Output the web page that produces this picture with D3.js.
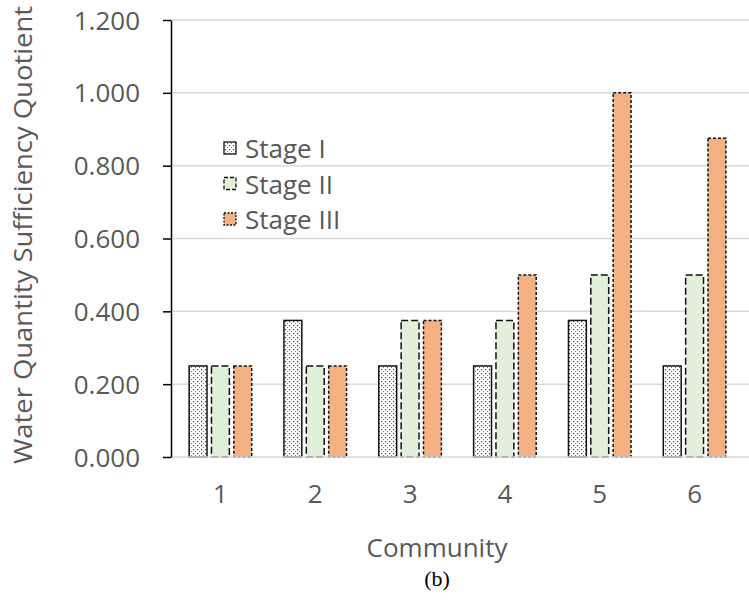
<!DOCTYPE html>
<html><head><meta charset="utf-8">
<script src="https://cdn.jsdelivr.net/npm/d3@7"></script>
<style>body{margin:0;background:#fff}svg{display:block}</style>
</head><body>
<svg id="c" width="749" height="610"></svg>
<script>
const categories = ["1","2","3","4","5","6"];
const seriesNames = ["Stage I","Stage II","Stage III"];
const stage1 = [0.25,0.375,0.25,0.25,0.375,0.25];
const stage2 = [0.25,0.25,0.375,0.375,0.5,0.5];
const stage3 = [0.25,0.25,0.375,0.5,1.0,0.875];
const yTicks = [0,0.2,0.4,0.6,0.8,1.0,1.2];

const series = [stage1, stage2, stage3];
const svg = d3.select("#c");
const font = "Open Sans, sans-serif";
const defs = svg.append("defs");
const pat = defs.append("pattern").attr("id","dots").attr("patternUnits","userSpaceOnUse")
  .attr("width",4).attr("height",4);
pat.append("rect").attr("width",4).attr("height",4).attr("fill","#fff");
pat.append("rect").attr("x",1).attr("y",1).attr("width",1.2).attr("height",1.2).attr("fill","#444");
pat.append("rect").attr("x",3).attr("y",3).attr("width",1.2).attr("height",1.2).attr("fill","#777");

const styles = [
  {fill:"url(#dots)", dash:null},
  {fill:"#e2efda", dash:"7,3"},
  {fill:"#f4b183", dash:"3,2"}
];

const x0 = d3.scaleBand().domain(categories).range([173,742]).paddingInner(0.34).paddingOuter(0.17);
const x1 = d3.scaleBand().domain(seriesNames).range([0,x0.bandwidth()]).paddingInner(0.2);
const y = d3.scaleLinear().domain([0,1.2]).range([457,20]);

// gridlines
svg.append("g").selectAll("line").data(yTicks.slice(1)).join("line")
  .attr("x1",171).attr("x2",749).attr("y1",d=>y(d)).attr("y2",d=>y(d))
  .attr("stroke","#d9d9d9").attr("stroke-width",1.5);

// bars
seriesNames.forEach((s,i)=>{
  svg.append("g").selectAll("rect").data(series[i]).join("rect")
    .attr("x",(d,j)=>x0(categories[j])+x1(s))
    .attr("y",d=>y(d))
    .attr("width",x1.bandwidth())
    .attr("height",d=>y(0)-y(d))
    .attr("fill",styles[i].fill)
    .attr("stroke","#111").attr("stroke-width",1.5)
    .attr("stroke-dasharray",styles[i].dash);
});

// x axis baseline
svg.append("line").attr("x1",171).attr("x2",749).attr("y1",y(0)).attr("y2",y(0))
  .attr("stroke","#d9d9d9").attr("stroke-width",1.5);

// y axis
const ya = svg.append("g").attr("transform","translate(171,0)")
  .call(d3.axisLeft(y).tickValues(yTicks).tickFormat(d3.format(".3f")).tickSize(8).tickSizeOuter(0));
ya.select(".domain").attr("stroke","#000").attr("stroke-width",1.5);
ya.selectAll(".tick line").attr("stroke","#000").attr("stroke-width",1.5);
ya.selectAll(".tick text").attr("x",-31).attr("dy","0.35em").attr("font-family",font).attr("font-size",26).attr("fill","#595959");

// x tick labels
svg.append("g").selectAll("text").data(categories).join("text")
  .attr("x",d=>x0(d)+x0.bandwidth()/2).attr("y",503)
  .attr("text-anchor","middle").attr("font-family",font).attr("font-size",26).attr("fill","#595959")
  .text(d=>d);

// axis titles
svg.append("text").attr("x",437).attr("y",557).attr("text-anchor","middle")
  .attr("font-family",font).attr("font-size",26).attr("fill","#595959").text("Community");
svg.append("text").attr("transform","translate(32,235) rotate(-90)").attr("text-anchor","middle")
  .attr("font-family",font).attr("font-size",26).attr("fill","#595959")
  .attr("textLength",458).attr("lengthAdjust","spacingAndGlyphs")
  .text("Water Quantity Sufficiency Quotient");
svg.append("text").attr("x",437).attr("y",586).attr("text-anchor","middle")
  .attr("font-family","Liberation Serif, serif").attr("font-size",22).attr("fill","#000").text("(b)");

// legend
const lg = svg.append("g");
seriesNames.forEach((s,i)=>{
  const cy = 148 + i*35.5;
  lg.append("rect").attr("x",224).attr("y",cy-6).attr("width",12).attr("height",12)
    .attr("fill",styles[i].fill).attr("stroke","#111").attr("stroke-width",1.3)
    .attr("stroke-dasharray",i==0?null:(i==1?"4,2":"2,1.5"));
  lg.append("text").attr("x",245).attr("y",cy+10).attr("font-family",font)
    .attr("font-size",26).attr("fill","#595959").text(s);
});
</script>
</body></html>
